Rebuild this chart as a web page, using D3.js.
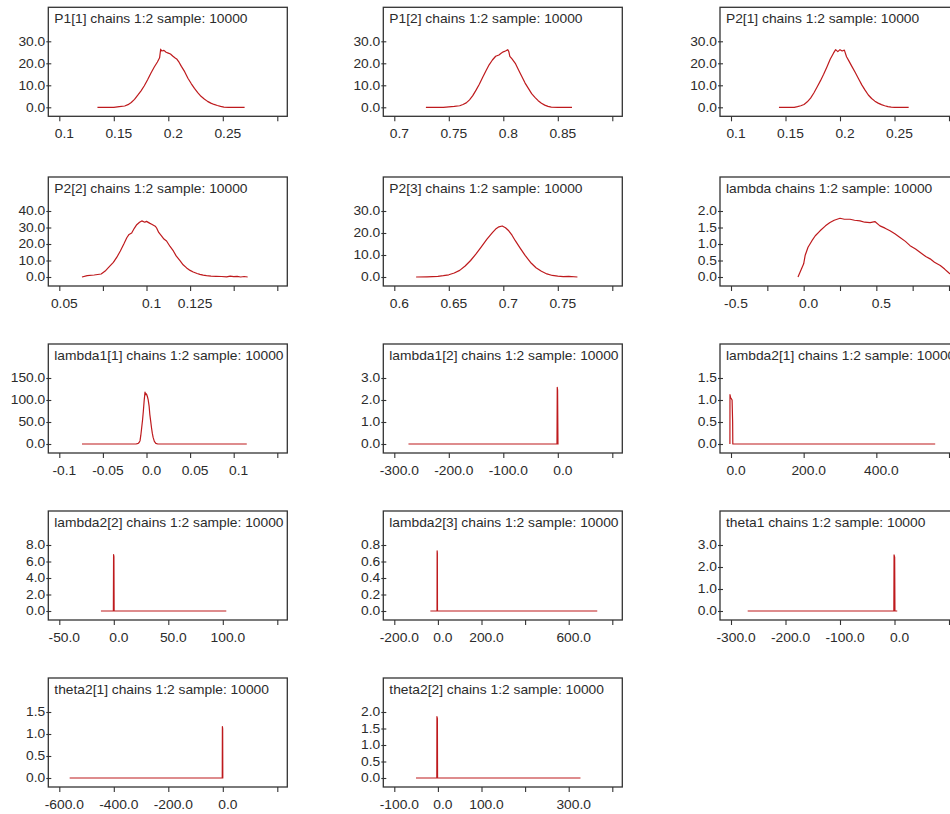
<!DOCTYPE html>
<html><head><meta charset="utf-8">
<script src="https://cdn.jsdelivr.net/npm/d3@7"></script>
<style>
body{margin:0;background:#fff}
svg{display:block}
</style></head>
<body><svg id="c" width="950" height="814"></svg>
<script>
// ---------- titles ----------
const titles = [
  "P1[1] chains 1:2 sample: 10000","P1[2] chains 1:2 sample: 10000","P2[1] chains 1:2 sample: 10000",
  "P2[2] chains 1:2 sample: 10000","P2[3] chains 1:2 sample: 10000","lambda chains 1:2 sample: 10000",
  "lambda1[1] chains 1:2 sample: 10000","lambda1[2] chains 1:2 sample: 10000","lambda2[1] chains 1:2 sample: 10000",
  "lambda2[2] chains 1:2 sample: 10000","lambda2[3] chains 1:2 sample: 10000","theta1 chains 1:2 sample: 10000",
  "theta2[1] chains 1:2 sample: 10000","theta2[2] chains 1:2 sample: 10000"
];

// ---------- density curves (x values, density values) ----------
const p1_1_x = [0.135,0.15,0.155,0.16,0.163,0.166,0.169,0.172,0.175,0.178,0.181,0.184,0.187,0.19,0.192,0.193,0.194,0.196,0.198,0.2,0.202,0.204,0.206,0.208,0.21,0.212,0.215,0.218,0.221,0.224,0.227,0.23,0.233,0.236,0.239,0.242,0.245,0.248,0.251,0.255,0.26,0.27];
const p1_1_y = [0,0,0.3,0.6,1.2,2.2,3.6,5.5,7.5,9.8,12.5,15.5,18.2,20.6,22.5,26.4,25.6,25.9,25.0,24.6,24.2,23.3,22.5,21.8,20.4,18.6,16.2,13.2,10.8,8.6,6.7,5.0,3.8,2.7,1.9,1.3,0.8,0.4,0.1,0,0,0];

const p1_2_x = [0.729,0.745,0.75,0.755,0.76,0.763,0.766,0.769,0.772,0.775,0.778,0.781,0.784,0.787,0.79,0.793,0.796,0.798,0.8,0.802,0.804,0.805,0.806,0.808,0.811,0.814,0.817,0.82,0.823,0.826,0.829,0.832,0.835,0.838,0.841,0.844,0.85,0.863];
const p1_2_y = [0,0,0.2,0.4,0.7,1.3,2.0,3.4,5.3,7.8,10.5,13.5,16.5,19.3,21.5,23.2,23.8,24.6,25.2,25.6,26.2,25.4,23.2,22.0,20.0,17.0,14.0,11.0,8.6,6.2,4.5,3.0,1.8,1.0,0.4,0.1,0,0];

const p2_1_x = [0.144,0.158,0.161,0.164,0.167,0.17,0.173,0.176,0.179,0.182,0.185,0.188,0.191,0.194,0.196,0.198,0.2,0.202,0.204,0.206,0.208,0.211,0.214,0.217,0.22,0.223,0.226,0.229,0.232,0.235,0.238,0.241,0.244,0.247,0.25,0.255,0.263];
const p2_1_y = [0,0,0.3,0.7,1.3,2.5,4.2,6.5,9.2,12.0,15.0,18.3,21.8,24.6,26.2,25.3,26.2,25.6,26.0,23.0,21.2,18.5,15.8,13.0,10.2,7.8,5.6,4.0,2.8,1.9,1.2,0.7,0.3,0.1,0,0,0];

const p2_2_x = [0.063,0.066,0.07,0.074,0.0763,0.078,0.081,0.083,0.085,0.087,0.0887,0.09,0.0915,0.093,0.0944,0.096,0.0973,0.099,0.1,0.102,0.103,0.105,0.1058,0.107,0.1087,0.11,0.1115,0.1135,0.1154,0.117,0.1192,0.121,0.123,0.125,0.1268,0.129,0.1306,0.1325,0.1344,0.137,0.14,0.143,0.146,0.148,0.15,0.152,0.154,0.156,0.158];
const p2_2_y = [0,0.8,1.2,1.8,3.6,5.5,8.9,12.0,15.8,20.0,23.8,25.8,26.7,29.5,31.7,33.2,34.0,33.2,33.7,32.5,32.0,30.8,29.7,27.0,24.8,23.0,21.8,18.5,15.8,12.8,9.9,7.4,5.5,4.0,3.0,2.1,1.6,1.1,0.8,0.5,0.4,0.3,0.1,0.5,0.2,0.4,0,0.3,0];

const p2_3_x = [0.62,0.63,0.64,0.645,0.65,0.655,0.66,0.665,0.67,0.675,0.68,0.685,0.69,0.693,0.696,0.699,0.702,0.705,0.708,0.711,0.715,0.72,0.725,0.73,0.735,0.74,0.745,0.75,0.755,0.76,0.768];
const p2_3_y = [0,0.1,0.3,0.6,1.0,1.8,3.0,5.0,7.5,10.5,13.8,17.2,20.2,21.8,22.8,23.2,22.4,21.0,19.0,16.5,13.5,9.8,6.6,4.2,2.6,1.4,0.7,0.4,0.2,0.3,0];

const lambda_x = [-0.039,0.0,0.01,0.03,0.057,0.08,0.113,0.15,0.181,0.21,0.25,0.28,0.319,0.35,0.388,0.42,0.457,0.49,0.525,0.56,0.594,0.63,0.663,0.7,0.732,0.77,0.80,0.84,0.87,0.9,0.94,0.97,1.0,1.02];
const lambda_y = [0,0.4,0.65,0.9,1.1,1.25,1.4,1.55,1.65,1.72,1.78,1.75,1.75,1.72,1.7,1.66,1.65,1.68,1.55,1.48,1.4,1.3,1.2,1.08,0.95,0.85,0.75,0.62,0.55,0.45,0.35,0.24,0.12,0.05];

const l1_1_x = [-0.074,-0.012,-0.0095,-0.0085,-0.0074,-0.0065,-0.0055,-0.0045,-0.0036,-0.0027,-0.0017,-0.0008,0,0.001,0.0019,0.003,0.0038,0.0048,0.0057,0.0067,0.0076,0.009,0.0107,0.013,0.115];
const l1_1_y = [0,0,1.5,3.5,7.5,20,37.5,55,75,98,118,112,114,108,101,86,67.5,52,37.5,24,15,6,1.5,0,0];

const l1_2_x = [-274,-1.5,-1.0,-0.4,0.3,1.5];
const l1_2_y = [0,0,2.58,2.45,0,0];

const l2_1_x = [-3,-2.8,-1,1,3,4.5,5,562];
const l2_1_y = [0,1.12,1.05,1.03,1.0,0.5,0,0];

const l2_2_x = [-11.8,-0.4,-0.2,0.1,0.3,103.2];
const l2_2_y = [0,0,6.85,6.6,0,0];

const l2_3_x = [-34.6,-4,-3.5,-2.5,-2,731];
const l2_3_y = [0,0,0.73,0.7,0,0];

const th1_x = [-269.4,-1.2,-0.8,0.3,0.8,5];
const th1_y = [0,0,2.55,2.45,0,0];

const th2_1_x = [-562,-2,-1.5,-0.5,0,2];
const th2_1_y = [0,0,1.17,1.12,0,0];

const th2_2_x = [-50.2,-2.5,-2.2,-1.2,-0.8,327];
const th2_2_y = [0,0,1.86,1.8,0,0];

// ---------- x-axis ticks and their labels ----------
const xTicks = [
  [0.1,0.15,0.2,0.25,0.3],
  [0.7,0.75,0.8,0.85,0.9],
  [0.1,0.15,0.2,0.25,0.3],
  [0.05,0.075,0.1,0.125,0.15,0.175],
  [0.6,0.65,0.7,0.75,0.8],
  [-0.5,-0.25,0,0.25,0.5,0.75,1.0],
  [-0.1,-0.05,0,0.05,0.1,0.15],
  [-300,-200,-100,0,100],
  [0,200,400,600],
  [-50,0,50,100,150],
  [-200,0,200,400,600,800],
  [-300,-200,-100,0,100],
  [-600,-400,-200,0,200],
  [-100,0,100,200,300,400]
];
const xLabels = [
  ["0.1","0.15","0.2","0.25",""],
  ["0.7","0.75","0.8","0.85",""],
  ["0.1","0.15","0.2","0.25",""],
  ["0.05","","0.1","0.125","",""],
  ["0.6","0.65","0.7","0.75",""],
  ["-0.5","","0.0","","0.5","",""],
  ["-0.1","-0.05","0.0","0.05","0.1",""],
  ["-300.0","-200.0","-100.0","0.0",""],
  ["0.0","200.0","400.0",""],
  ["-50.0","0.0","50.0","100.0",""],
  ["-200.0","0.0","200.0","","600.0",""],
  ["-300.0","-200.0","-100.0","0.0",""],
  ["-600.0","-400.0","-200.0","0.0",""],
  ["-100.0","0.0","100.0","","300.0",""]
];
// ---------- y-axis ticks ----------
const yTicks = [
  [0,10,20,30],[0,10,20,30],[0,10,20,30],
  [0,10,20,30,40],[0,10,20,30],[0,0.5,1,1.5,2],
  [0,50,100,150],[0,1,2,3],[0,0.5,1,1.5],
  [0,2,4,6,8],[0,0.2,0.4,0.6,0.8],[0,1,2,3],
  [0,0.5,1,1.5],[0,0.5,1,1.5,2]
];

const curveX = [p1_1_x,p1_2_x,p2_1_x,p2_2_x,p2_3_x,lambda_x,l1_1_x,l1_2_x,l2_1_x,l2_2_x,l2_3_x,th1_x,th2_1_x,th2_2_x];
const curveY = [p1_1_y,p1_2_y,p2_1_y,p2_2_y,p2_3_y,lambda_y,l1_1_y,l1_2_y,l2_1_y,l2_2_y,l2_3_y,th1_y,th2_1_y,th2_2_y];

// ---------- layout ----------
const colL = [48.3, 383.3, 720];
const rowT = [7.3, 177, 344, 511, 678];
const BW = 239, BH = 109;
const FONT = '"Liberation Sans", Arial, Helvetica, sans-serif';
const SX = 1.15;
const RED = "#be1a1d";
const INK = "#2b2b2b";

const svg = d3.select("#c");
svg.append("rect").attr("width",950).attr("height",814).attr("fill","#fff");

titles.forEach((t, i) => {
  const L = colL[i % 3], T = rowT[Math.floor(i / 3)];
  const g = svg.append("g").attr("transform", `translate(${L},${T})`);
  const xt = xTicks[i], yt = yTicks[i];
  const x = d3.scaleLinear().domain([xt[0], xt[xt.length - 1]]).range([11, 229]);
  const y = d3.scaleLinear().domain([0, yt[yt.length - 1]]).range([100, 34]);

  g.append("rect").attr("width", BW).attr("height", BH).attr("fill", "#fff");

  // curve
  g.append("path")
    .datum(d3.zip(curveX[i], curveY[i]))
    .attr("d", d3.line().x(d => x(d[0])).y(d => y(d[1])))
    .attr("fill", "none").attr("stroke", RED).attr("stroke-width", 1.2)
    .attr("stroke-linejoin", "round");

  // frame
  g.append("rect").attr("width", BW).attr("height", BH)
    .attr("fill", "none").attr("stroke", "#333").attr("stroke-width", 1.3);

  // title
  g.append("text").attr("transform", `translate(6,16) scale(${SX},1)`)
    .attr("font-family", FONT).attr("font-size", 12).attr("fill", INK).text(t);

  // x axis
  const xa = g.append("g").attr("transform", `translate(0,${BH})`)
    .call(d3.axisBottom(x).tickValues(xt).tickFormat((d, j) => xLabels[i][j]).tickSize(5).tickSizeOuter(0));
  xa.attr("font-family", FONT).attr("font-size", 12).attr("color", INK);
  xa.select(".domain").remove();
  xa.selectAll("line").attr("stroke", "#333").attr("stroke-width", 1.1);
  xa.selectAll("text").attr("y", null).attr("dy", null)
    .attr("transform", `translate(4.5,22) scale(${SX},1)`).attr("fill", INK);

  // y axis
  const ya = g.append("g")
    .call(d3.axisLeft(y).tickValues(yt).tickFormat(d3.format(".1f")).tickSize(2).tickSizeOuter(0));
  ya.attr("font-family", FONT).attr("font-size", 12).attr("color", INK);
  ya.select(".domain").remove();
  ya.selectAll("line").attr("x1", 3).attr("x2", -2).attr("stroke", "#333").attr("stroke-width", 1.1);
  ya.selectAll("text").attr("x", null)
    .attr("transform", `translate(-3,0) scale(${SX},1)`).attr("fill", INK);
});
</script>
</body></html>
